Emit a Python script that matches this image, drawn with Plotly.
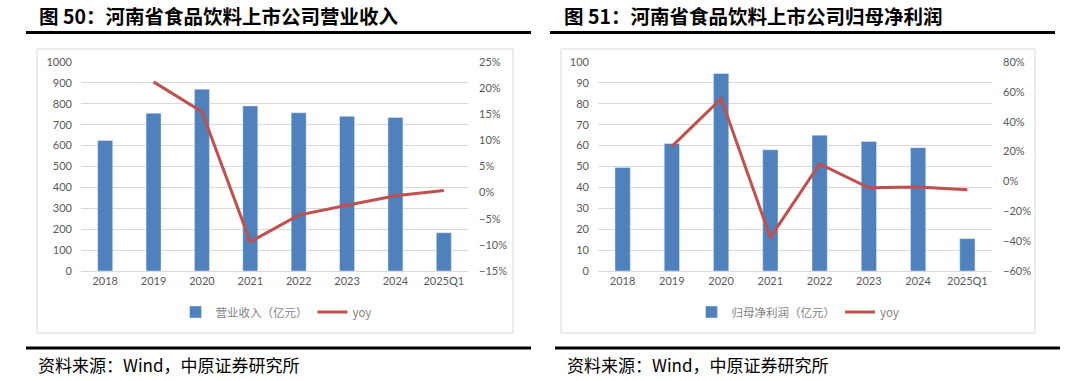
import plotly.graph_objects as go

categories = ["2018", "2019", "2020", "2021", "2022", "2023", "2024", "2025Q1"]

revenue = [625, 755, 870, 790, 757, 740, 735, 183]
revenue_yoy = [None, 21.2, 15.5, -9.4, -4.3, -2.4, -0.6, 0.4]

profit = [49.5, 61, 94.5, 58, 65, 62, 59, 15.5]
profit_yoy = [None, 23.5, 55.5, -37.5, 11.8, -4.3, -3.7, -5.5]

left_title = "图 50：河南省食品饮料上市公司营业收入"
right_title = "图 51：河南省食品饮料上市公司归母净利润"
source_text = "资料来源：Wind，中原证券研究所"

W, H = 1069, 381
BAR = "#4F81BD"
LINE = "#C0504D"
TICK = dict(family="Lato, Noto Sans CJK SC", size=11, color="#595959")
CJK = "Noto Sans CJK SC"


def px(x):
    return x / W


def py(y):
    return 1 - y / H


fig = go.Figure()

fig.add_trace(go.Bar(x=categories, y=revenue, name="营业收入（亿元）", marker_color=BAR,
                     width=0.31, xaxis="x", yaxis="y", legend="legend"))
fig.add_trace(go.Scatter(x=categories, y=revenue_yoy, name="yoy", mode="lines",
                         line=dict(color=LINE, width=3), xaxis="x", yaxis="y2", legend="legend"))
fig.add_trace(go.Bar(x=categories, y=profit, name="归母净利润（亿元）", marker_color=BAR,
                     width=0.31, xaxis="x2", yaxis="y3", legend="legend2"))
fig.add_trace(go.Scatter(x=categories, y=profit_yoy, name="yoy", mode="lines",
                         line=dict(color=LINE, width=3), xaxis="x2", yaxis="y4", legend="legend2"))

ydom = [py(271), py(62)]
xax = dict(showgrid=False, showline=True, linecolor="#d9d9d9", linewidth=1, ticks="",
           tickfont=TICK, type="category", fixedrange=True, automargin=False)
yl = dict(showgrid=True, gridcolor="#d9d9d9", gridwidth=1, zeroline=False, showline=False,
          tickfont=TICK, ticklabelstandoff=8, domain=ydom, automargin=False)
yr = dict(showgrid=False, zeroline=False, showline=False, tickfont=TICK, ticksuffix="%",
          ticklabelstandoff=10, side="right", automargin=False)

LEGFONT = dict(family=CJK, size=11.5, color="#7f7f7f")
fig.update_layout(
    width=W, height=H,
    margin=dict(l=0, r=0, t=0, b=0, autoexpand=False),
    paper_bgcolor="white", plot_bgcolor="white",
    xaxis=dict(xax, domain=[px(81), px(468)], anchor="y"),
    yaxis=dict(yl, range=[0, 1000], dtick=100, anchor="x"),
    yaxis2=dict(yr, range=[-15, 25], dtick=5, overlaying="y", anchor="x"),
    xaxis2=dict(xax, domain=[px(598), px(992)], anchor="y3"),
    yaxis3=dict(yl, range=[0, 100], dtick=10, anchor="x2"),
    yaxis4=dict(yr, range=[-60, 80], dtick=20, overlaying="y3", anchor="x2"),
    legend=dict(orientation="h", x=px(276), y=py(312), xanchor="center", yanchor="middle",
                font=LEGFONT, bgcolor="rgba(0,0,0,0)", itemwidth=30),
    legend2=dict(orientation="h", x=px(798), y=py(312), xanchor="center", yanchor="middle",
                 font=LEGFONT, bgcolor="rgba(0,0,0,0)", itemwidth=30),
    showlegend=True,
)

shapes = []
# chart boxes
for x0, x1 in [(37, 513), (561, 1035)]:
    shapes.append(dict(type="rect", xref="paper", yref="paper", x0=px(x0), x1=px(x1),
                       y0=py(333), y1=py(49), line=dict(color="#d9d9d9", width=1)))
# thick rules
for x0, x1, y in [(26, 531, 32.5), (550, 1055, 32.5), (26, 531, 348), (555, 1060, 348)]:
    shapes.append(dict(type="line", xref="paper", yref="paper", x0=px(x0), x1=px(x1),
                       y0=py(y), y1=py(y), line=dict(color="black", width=3)))
fig.update_layout(shapes=shapes)

annotations = [
    dict(text="<b>" + left_title + "</b>", x=px(37), y=py(15.5), xanchor="left", yanchor="middle"),
    dict(text="<b>" + right_title + "</b>", x=px(562), y=py(15.5), xanchor="left", yanchor="middle"),
]
for a in annotations:
    a.update(xref="paper", yref="paper", showarrow=False,
             font=dict(family=CJK, size=19.5, color="black"))
for x in [36, 565]:
    annotations.append(dict(text=source_text, x=px(x), y=py(364), xref="paper", yref="paper",
                            xanchor="left", yanchor="middle", showarrow=False,
                            font=dict(family=CJK, size=17, color="black")))
fig.update_layout(annotations=annotations)

fig.write_html("out.html", config={"displayModeBar": False},
               post_script="document.body.style.margin='0';document.body.style.overflow='hidden';")
